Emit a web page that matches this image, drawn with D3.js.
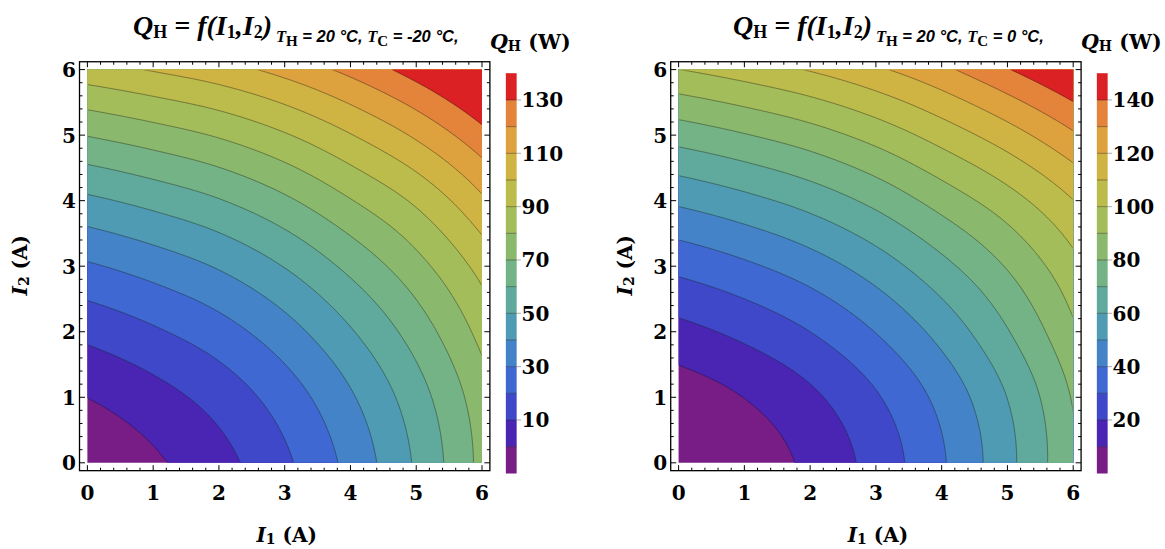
<!DOCTYPE html>
<html><head><meta charset="utf-8">
<script src="https://cdn.jsdelivr.net/npm/d3@7"></script>
<style>body{margin:0;background:#fff} svg{display:block}</style>
</head><body><svg id="c" width="1165" height="549"></svg>
<script>
// ---- data ----
const gridI1 = [0, 1, 2, 3, 4, 5, 6];      // A
const gridI2 = [0, 1, 2, 3, 4, 5, 6];      // A
// Q_H (W) on the grid; rows: I2 = 0..6, columns: I1 = 0..6
const qhLeft = [   // T_H = 20 °C, T_C = -20 °C
  [-8.00, -1.61,   6.60,  18.16,  33.08,  51.36,  72.98],
  [ 0.11,  6.20,  13.91,  24.77,  38.79,  55.60,  75.60],
  [12.80, 18.59,  25.80,  35.96,  49.08,  64.50,  83.20],
  [28.75, 34.24,  40.95,  50.41,  62.63,  76.50,  93.50],
  [47.96, 53.15,  59.36,  68.12,  79.44,  91.80, 108.30],
  [70.43, 75.32,  81.03,  89.09,  99.51, 111.60, 126.80],
  [96.16, 100.75, 105.96, 113.32, 122.84, 134.52, 148.30]
];
const qhRight = [  // T_H = 20 °C, T_C = 0 °C
  [-3.00,  3.93,  12.20,  23.82,  38.80,  57.15,  78.84],
  [ 4.38, 10.16,  18.01,  28.97,  43.02,  60.17,  80.90],
  [16.93, 22.56,  30.00,  40.29,  53.41,  69.37,  88.30],
  [32.75, 38.23,  45.27,  54.88,  67.08,  80.80,  97.00],
  [51.85, 57.18,  63.81,  72.75,  84.02,  95.80, 109.80],
  [74.23, 79.40,  85.62,  93.90, 104.23, 115.50, 128.60],
  [99.87, 104.90, 110.71, 118.31, 127.72, 139.40, 152.00]
];
const levelsLeft  = [0, 10, 20, 30, 40, 50, 60, 70, 80, 90, 100, 110, 120, 130];
const levelsRight = [10, 20, 30, 40, 50, 60, 70, 80, 90, 100, 110, 120, 130, 140];
const legendTicksLeft  = [10, 30, 50, 70, 90, 110, 130];
const legendTicksRight = [20, 40, 60, 80, 100, 120, 140];
const axisTicks = [0, 1, 2, 3, 4, 5, 6];
const tempHot = "20", tempColdLeft = "-20", tempColdRight = "0";

const bandColors = ["#781c86","#4a25b4","#3f48c8","#4068d2","#4483c8","#4f9bb4","#5faa9c",
  "#73b386","#8ab96e","#a3bd5a","#bbbc4b","#cfb443","#dda23d","#e4843a","#db2124"];

const svg = d3.select("#c");
const defs = svg.append("defs");

function catmull(p0, p1, p2, p3, t) {
  return 0.5 * ((2 * p1) + (-p0 + p2) * t + (2 * p0 - 5 * p1 + 4 * p2 - p3) * t * t +
    (-p0 + 3 * p1 - 3 * p2 + p3) * t * t * t);
}
function interp1(arr, u) {
  const n = arr.length;
  const ext = [3 * arr[0] - 3 * arr[1] + arr[2], ...arr, 3 * arr[n - 1] - 3 * arr[n - 2] + arr[n - 3]];
  let i = Math.min(Math.floor(u), n - 2);
  const t = u - i;
  return catmull(ext[i], ext[i + 1], ext[i + 2], ext[i + 3], t);
}

function drawChart(opt) {
  const {grid, levels, ox, legendX, legendDomain, legendTicks, tc, titleX, subX, legTitleX, yTitleGap, id} = opt;
  const x = d3.scaleLinear().domain([0, 6]).range([ox + 7.9, ox + 7.9 + 394.6]);
  const y = d3.scaleLinear().domain([0, 6]).range([462.8, 69.6]);
  const fx0 = x(-0.12), fx1 = x(6.12), fy0 = y(-0.12), fy1 = y(6.12);
  const g = svg.append("g");

  // sample field
  const N = 241, step = 6 / (N - 1);
  const values = new Array(N * N);
  for (let r = 0; r < N; r++) {
    const v2 = 6 - r * step;
    const u2 = (v2 - gridI2[0]) / (gridI2[1] - gridI2[0]);
    for (let c = 0; c < N; c++) {
      const v1 = c * step;
      const u1 = (v1 - gridI1[0]) / (gridI1[1] - gridI1[0]);
      const col = grid.map(row => interp1(row, u1));
      values[r * N + c] = interp1(col, u2);
    }
  }
  const proj = d3.geoTransform({point: function(px, py) {
    this.stream.point(x((px - 0.5) * step), y(6 - (py - 0.5) * step));
  }});
  const path = d3.geoPath(proj);

  defs.append("clipPath").attr("id", "clip" + id).append("rect")
    .attr("x", x(0)).attr("y", y(6)).attr("width", x(6) - x(0)).attr("height", y(0) - y(6));
  defs.append("clipPath").attr("id", "clipl" + id).append("rect")
    .attr("x", x(0) + 0.6).attr("y", y(6) + 0.6).attr("width", x(6) - x(0) - 1.2).attr("height", y(0) - y(6) - 1.2);

  const fillThr = [-1e9, ...levels];
  const fills = d3.contours().size([N, N]).thresholds(fillThr)(values);
  g.append("g").attr("clip-path", `url(#clip${id})`)
    .selectAll("path").data(fills).join("path")
    .attr("d", path).attr("fill", (d, i) => bandColors[i]).attr("stroke", (d, i) => bandColors[i]).attr("stroke-width", 0.4);

  const lines = d3.contours().size([N, N]).thresholds(levels)(values);
  g.append("g").attr("clip-path", `url(#clipl${id})`)
    .selectAll("path").data(lines).join("path")
    .attr("d", path).attr("fill", "none").attr("stroke", "#1a1a1a").attr("stroke-opacity", 0.55).attr("stroke-width", 0.75);

  // frame
  g.append("rect").attr("x", fx0).attr("y", fy1).attr("width", fx1 - fx0).attr("height", fy0 - fy1)
    .attr("fill", "none").attr("stroke", "#000").attr("stroke-width", 1.3);
  const minor = d3.range(0, 30.5).map(k => k / 5).filter(v => Math.abs(v - Math.round(v)) > 1e-6);
  const tk = g.append("g").attr("stroke", "#000").attr("stroke-width", 1);
  const addTicks = (vals, len) => {
    vals.forEach(v => {
      tk.append("line").attr("x1", x(v)).attr("x2", x(v)).attr("y1", fy0).attr("y2", fy0 - len);
      tk.append("line").attr("x1", x(v)).attr("x2", x(v)).attr("y1", fy1).attr("y2", fy1 + len);
      tk.append("line").attr("y1", y(v)).attr("y2", y(v)).attr("x1", fx0).attr("x2", fx0 + len);
      tk.append("line").attr("y1", y(v)).attr("y2", y(v)).attr("x1", fx1).attr("x2", fx1 - len);
    });
  };
  addTicks(axisTicks, 5.5);
  addTicks(minor, 3);

  const lab = g.append("g").attr("font-family", "DejaVu Serif").attr("font-weight", "bold").attr("font-size", 20).attr("fill", "#000");
  axisTicks.forEach(v => {
    lab.append("text").attr("x", x(v)).attr("y", 500).attr("text-anchor", "middle").text(v);
    lab.append("text").attr("x", fx0 - 3.5).attr("y", y(v) + 7.4).attr("text-anchor", "end").text(v);
  });

  // axis titles
  const xt = lab.append("text").attr("x", (x(0) + x(6)) / 2 + 2).attr("y", 541.5).attr("text-anchor", "middle");
  xt.append("tspan").attr("font-style", "italic").text("I");
  xt.append("tspan").attr("font-size", 14).attr("dy", 2).text("1");
  xt.append("tspan").attr("dy", -2).text(" (A)");
  const yt = lab.append("text").attr("transform", `translate(${fx0 - yTitleGap},${(y(0) + y(6)) / 2 - 1}) rotate(-90)`).attr("text-anchor", "middle");
  yt.append("tspan").attr("font-style", "italic").text("I");
  yt.append("tspan").attr("font-size", 14).attr("dy", 2).text("2");
  yt.append("tspan").attr("dy", -2).text(" (A)");

  // title
  const t1 = g.append("text").attr("x", titleX).attr("y", 35).attr("font-family", "Liberation Serif").attr("font-weight", "bold")
    .attr("font-style", "italic").attr("font-size", 28);
  t1.append("tspan").text("Q");
  t1.append("tspan").attr("font-style", "normal").attr("font-size", 18).attr("dy", 3).text("H");
  t1.append("tspan").attr("dy", -3).text(" = f(I");
  t1.append("tspan").attr("font-style", "normal").attr("font-size", 18).attr("dy", 3).text("1");
  t1.append("tspan").attr("dy", -3).text(",I");
  t1.append("tspan").attr("font-style", "normal").attr("font-size", 18).attr("dy", 3).text("2");
  t1.append("tspan").attr("dy", -3).text(")");
  const t2 = g.append("text").attr("x", subX).attr("y", 42).attr("font-family", "Liberation Sans").attr("font-weight", "bold")
    .attr("font-style", "italic").attr("font-size", 16.5);
  t2.append("tspan").attr("font-family", "Liberation Serif").text("T");
  t2.append("tspan").attr("font-family", "Liberation Serif").attr("font-style", "normal").attr("font-size", 15).attr("dy", 4).text("H");
  t2.append("tspan").attr("dy", -4).text(` = ${tempHot} °C, `);
  t2.append("tspan").attr("font-family", "Liberation Serif").text("T");
  t2.append("tspan").attr("font-family", "Liberation Serif").attr("font-style", "normal").attr("font-size", 15).attr("dy", 4).text("C");
  t2.append("tspan").attr("dy", -4).text(` = ${tc} °C,`);

  // legend
  const ls = d3.scaleLinear().domain(legendDomain).range([473.3, 73.3]);
  const bounds = d3.range(legendDomain[0], legendDomain[1] + 0.1, 10);
  const lg = g.append("g");
  for (let b = 0; b < bounds.length - 1; b++) {
    lg.append("rect").attr("x", legendX).attr("width", 10.5)
      .attr("y", ls(bounds[b + 1])).attr("height", ls(bounds[b]) - ls(bounds[b + 1]))
      .attr("fill", bandColors[b]).attr("stroke", bandColors[b]).attr("stroke-width", 0.3);
  }
  levels.forEach(v => {
    lg.append("line").attr("x1", legendX).attr("x2", legendX + 10.5).attr("y1", ls(v)).attr("y2", ls(v))
      .attr("stroke", "#1a1a1a").attr("stroke-opacity", 0.55).attr("stroke-width", 0.75);
  });
  legendTicks.forEach(v => {
    lg.append("line").attr("x1", legendX + 10.5).attr("x2", legendX + 15).attr("y1", ls(v)).attr("y2", ls(v))
      .attr("stroke", "#999").attr("stroke-width", 0.8);
    lg.append("text").attr("x", legendX + 15.5).attr("y", ls(v) + 7.4).attr("font-family", "DejaVu Serif")
      .attr("font-weight", "bold").attr("font-size", 20).text(v);
  });
  const lt = lg.append("text").attr("x", legTitleX).attr("y", 49).attr("font-family", "DejaVu Serif")
    .attr("font-weight", "bold").attr("font-size", 20.5);
  lt.append("tspan").attr("font-style", "italic").text("Q");
  lt.append("tspan").attr("font-size", 14).attr("dy", 2).text("H");
  lt.append("tspan").attr("dy", -2).text(" (W)");
}

drawChart({grid: qhLeft, levels: levelsLeft, ox: 79.5, legendX: 506, legendDomain: [-10, 140],
  legendTicks: legendTicksLeft, tc: tempColdLeft, titleX: 133, subX: 276, legTitleX: 490, yTitleGap: 53, id: "L"});
drawChart({grid: qhRight, levels: levelsRight, ox: 670.7, legendX: 1097, legendDomain: [0, 150],
  legendTicks: legendTicksRight, tc: tempColdRight, titleX: 733, subX: 876, legTitleX: 1081, yTitleGap: 39, id: "R"});
</script>
</body></html>
